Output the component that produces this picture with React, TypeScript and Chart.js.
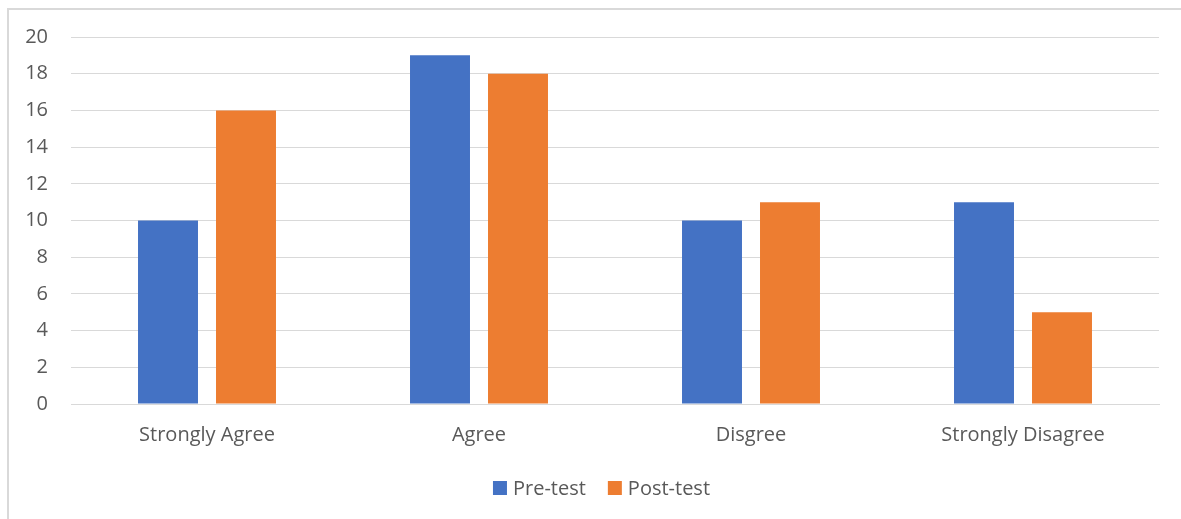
import React, { useEffect, useRef } from "react";
import { Chart, registerables } from "chart.js";

Chart.register(...registerables);

const categories = ["Strongly Agree", "Agree", "Disgree", "Strongly Disagree"];
const preTest = [10, 19, 10, 11];
const postTest = [16, 18, 11, 5];
const seriesNames = ["Pre-test", "Post-test"];
const seriesColors = ["#4472C4", "#ED7D31"];

const FONT = "'Open Sans', 'Noto Sans', sans-serif";
const TEXT = "#595959";
const GRID = "#d9d9d9";

// Frame around the chart plus a centred legend beneath the axis labels
const decorations = {
  id: "decorations",
  beforeDraw(chart: any) {
    const { ctx, width, height } = chart;
    ctx.save();
    ctx.strokeStyle = GRID;
    ctx.lineWidth = 2;
    ctx.beginPath();
    ctx.moveTo(8, height + 2);
    ctx.lineTo(8, 9);
    ctx.lineTo(width + 2, 9);
    ctx.stroke();
    ctx.restore();
  },
  afterDraw(chart: any) {
    const { ctx } = chart;
    ctx.save();
    ctx.font = `20px ${FONT}`;
    ctx.textBaseline = "middle";
    const box = 14;
    const gapText = 6;
    const gapItems = 22;
    const widths = seriesNames.map((n) => ctx.measureText(n).width);
    const total =
      widths.reduce((a, w) => a + box + gapText + w, 0) + gapItems * (seriesNames.length - 1);
    const cx = 601.5;
    let x = cx - total / 2;
    const y = 488;
    seriesNames.forEach((n, i) => {
      ctx.fillStyle = seriesColors[i];
      ctx.fillRect(x, y - box / 2, box, box);
      ctx.fillStyle = TEXT;
      ctx.fillText(n, x + box + gapText, y + 1);
      x += box + gapText + widths[i] + gapItems;
    });
    ctx.restore();
  },
};

export default function App() {
  const ref = useRef<HTMLCanvasElement>(null);

  useEffect(() => {
    document.body.style.margin = "0";
    const chart = new Chart(ref.current!, {
      type: "bar",
      data: {
        labels: categories,
        datasets: [
          { label: seriesNames[0], data: preTest, backgroundColor: seriesColors[0] },
          { label: seriesNames[1], data: postTest, backgroundColor: seriesColors[1] },
        ],
      },
      options: {
        animation: false,
        responsive: false,
        devicePixelRatio: 1,
        layout: { padding: { top: 37, right: 22, bottom: 65, left: 0 } },
        datasets: {
          bar: { categoryPercentage: 0.5735, barPercentage: 0.769 },
        },
        plugins: {
          legend: { display: false },
          title: { display: false },
          tooltip: { enabled: false },
        },
        scales: {
          x: {
            grid: { display: false, drawTicks: false },
            border: { display: true, color: GRID, width: 1 },
            ticks: { color: TEXT, font: { family: FONT, size: 20 }, padding: 19 },
            afterFit: (s: any) => {
              s.height = 50;
            },
          },
          y: {
            min: 0,
            max: 20,
            ticks: {
              stepSize: 2,
              color: TEXT,
              font: { family: FONT, size: 20 },
              padding: 23,
            },
            grid: { color: GRID, lineWidth: 1, drawTicks: false },
            border: { display: false },
            afterFit: (s: any) => {
              s.width = 71;
            },
          },
        },
      },
      plugins: [decorations],
    });
    return () => chart.destroy();
  }, []);

  return (
    <div style={{ position: "absolute", left: 0, top: 0, width: 1181, height: 519, background: "#fff" }}>
      <canvas ref={ref} width={1181} height={519} />
    </div>
  );
}
